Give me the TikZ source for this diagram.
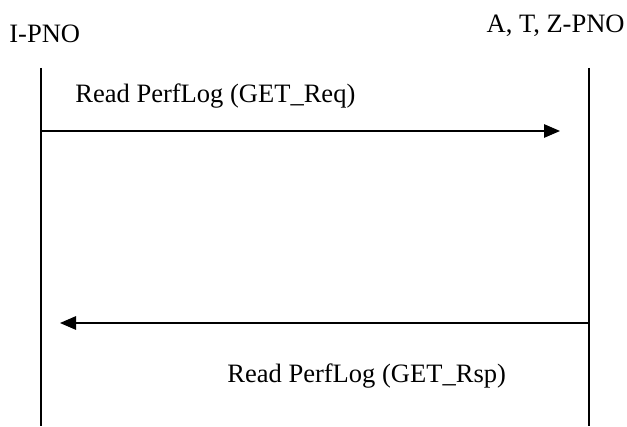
\documentclass[tikz,border=0pt]{standalone}
\usepackage{fontspec}
\setmainfont{Liberation Serif}
\usetikzlibrary{arrows.meta}
\begin{document}
\fontsize{15.1}{18}\selectfont
\begin{tikzpicture}[msg/.style={-{Triangle[length=0.32cm,width=0.27cm]},line width=0.7pt},
		life/.style={line width=0.9pt}]
		\useasboundingbox (0,0) rectangle (12.54,-8.52);
		% set up nodes
		\node[anchor=base west,inner sep=0] (ipno) at (0.18,-0.86) {I-PNO};
		\node[anchor=base east,inner sep=0] (peers) at (12.5,-0.66) {A, T, Z-PNO};
		\coordinate (itop) at (0.82,-1.36);
		\coordinate (ibot) at (0.82,-8.52);
		\coordinate (ptop) at (11.78,-1.36);
		\coordinate (pbot) at (11.78,-8.52);
		\coordinate (reqfrom) at (0.82,-2.62);
		\coordinate (reqto) at (11.2,-2.62);
		\coordinate (rspfrom) at (11.78,-6.46);
		\coordinate (rspto) at (1.2,-6.46);
		\node[anchor=base west,inner sep=0] (req) at (1.5,-2.06) {Read PerfLog (GET\_Req)};
		\node[anchor=base west,inner sep=0] (rsp) at (4.54,-7.64) {Read PerfLog (GET\_Rsp)};
		% connect them
		\draw[life] (itop) -- (ibot);
		\draw[life] (ptop) -- (pbot);
		\draw[msg] (reqfrom) -- (reqto);
		\draw[msg] (rspfrom) -- (rspto);
	\end{tikzpicture}
\end{document}
